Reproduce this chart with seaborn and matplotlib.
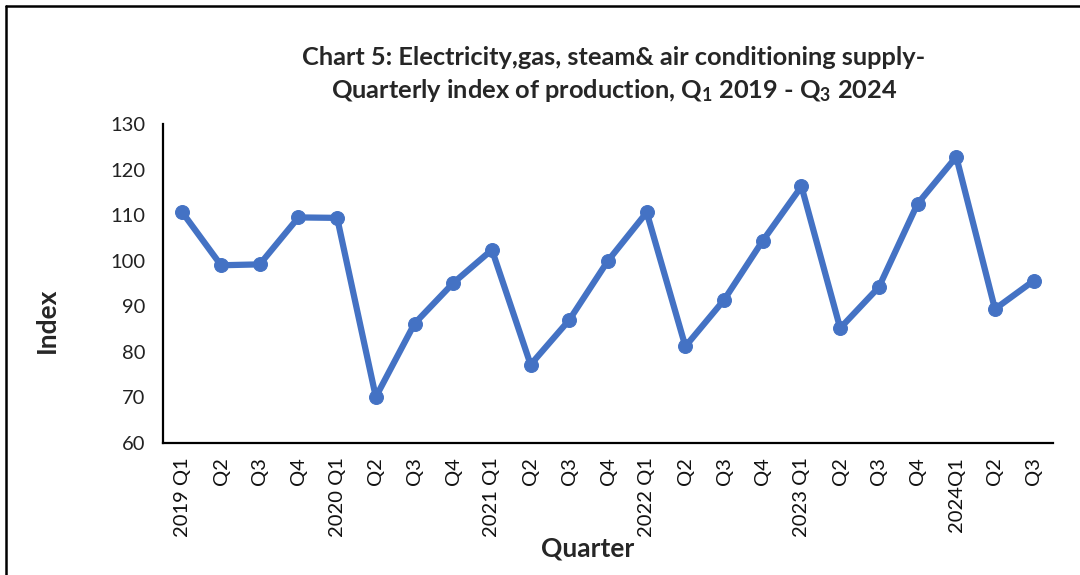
import numpy as np
import pandas as pd
import matplotlib
matplotlib.use("Agg")
import matplotlib.pyplot as plt
import seaborn as sns
from matplotlib.lines import Line2D
from matplotlib.ticker import MultipleLocator


# quarterly index of production, Q1 2019 - Q3 2024
quarters = ["2019 Q1", "Q2", "Q3", "Q4",
            "2020 Q1", "Q2", "Q3", "Q4",
            "2021 Q1", "Q2", "Q3", "Q4",
            "2022 Q1", "Q2", "Q3", "Q4",
            "2023 Q1", "Q2", "Q3", "Q4",
            "2024Q1", "Q2", "Q3"]
index_values = [110.6, 99.0, 99.2, 109.5,
                109.4, 70.1, 86.2, 95.1,
                102.4, 77.2, 87.0, 100.0,
                110.6, 81.2, 91.4, 104.4,
                116.3, 85.2, 94.2, 112.5,
                122.8, 89.4, 95.6]
y_ticks = [60, 70, 80, 90, 100, 110, 120, 130]

title = ("Chart 5: Electricity,gas, steam& air conditioning supply-\n"
         "Quarterly index of production, Q$_1$ 2019 - Q$_3$ 2024")

df = pd.DataFrame({"pos": np.arange(len(quarters)), "value": index_values})

sns.set_theme(style="white")
plt.rcParams["font.family"] = ["Lato", "DejaVu Sans"]
plt.rcParams["mathtext.default"] = "regular"

fig = plt.figure(figsize=(10.8, 5.75), dpi=100)
ax = fig.add_axes([163 / 1080, 1 - 443 / 575, 890 / 1080, 319 / 575])

sns.lineplot(data=df, x="pos", y="value", ax=ax, color="#4472C4",
             linewidth=4.5, marker="o", markersize=10,
             markeredgecolor="#4472C4")

ax.set_xlim(-0.5, len(quarters) - 0.5)
ax.set_ylim(60, 130)
ax.set_yticks(y_ticks)
ax.set_xticks(df["pos"])
ax.set_xticklabels(quarters, rotation=90, fontsize=14.5, color="#111111")
ax.xaxis.set_minor_locator(MultipleLocator(1, offset=0.5))
ax.tick_params(axis="x", which="major", length=0, pad=10)
ax.tick_params(axis="x", which="minor", length=5, width=1.5,
               color="black", direction="out")
ax.tick_params(axis="y", length=4.5, width=1.5, color="black",
               direction="out", labelsize=14.5, pad=8, labelcolor="#222222")
ax.set_xlabel("")
ax.set_ylabel("")

sns.despine(ax=ax)
for side in ["left", "bottom"]:
    ax.spines[side].set_linewidth(1.6)
    ax.spines[side].set_color("black")

fig.text(614 / 1080, 1 - 75 / 575, title, ha="center", va="center",
         fontsize=18.3, fontweight="bold", linespacing=1.35)
fig.text(588 / 1080, 1 - 549 / 575, "Quarter", ha="center", va="center",
         fontsize=19, fontweight="bold")
fig.text(47 / 1080, 1 - 320 / 575, "Index", ha="center", va="center",
         rotation=90, fontsize=19, fontweight="bold")

# chart frame (left and top edges)
fig.add_artist(Line2D([6 / 1080, 6 / 1080], [0, 1 - 6 / 575],
                      transform=fig.transFigure, color="black", linewidth=1.8))
fig.add_artist(Line2D([6 / 1080, 1], [1 - 6 / 575, 1 - 6 / 575],
                      transform=fig.transFigure, color="black", linewidth=1.8))

fig.savefig("out.png", dpi=100)
